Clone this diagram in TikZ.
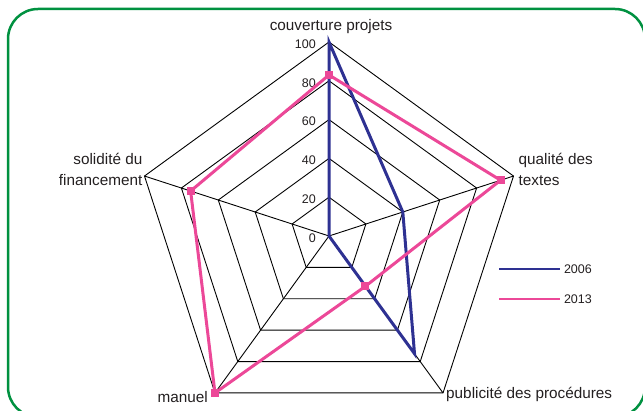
\documentclass[tikz,border=0pt]{standalone}
\usepackage{fontspec}
\setmainfont{Liberation Sans}
\usetikzlibrary{calc}
\newcommand{\radarsize}{194}
\newcommand{\labelfont}{\fontsize{15.3}{21}\selectfont}
\newcommand{\numfont}{\fontsize{12.5}{14}\selectfont}
\definecolor{serieA}{RGB}{46,49,146}
\definecolor{serieB}{RGB}{236,72,152}
\definecolor{cadre}{RGB}{0,145,64}
\definecolor{texte}{RGB}{35,31,32}

\begin{document}
\begin{tikzpicture}[x=1pt,y=1pt,font=\labelfont,text=texte]
	\useasboundingbox (0,0) rectangle (643,411);
	\begin{scope}
	\clip (0,0) rectangle (643,411);
	\draw[cadre, line width=2.5pt, rounded corners=30pt] (8,-6) rectangle (645,402);
	\end{scope}

	\coordinate (O) at (329,175);
	\foreach \name/\ang in {couv/90, qual/18, pub/-54, man/-126, sol/162}
		\coordinate (\name) at ($(O)+(\ang:\radarsize)$);

	% grille
	\foreach \r in {0.2,0.4,0.6,0.8,1.0}
		\draw[line width=0.9pt] ($(O)!\r!(couv)$) -- ($(O)!\r!(qual)$) -- ($(O)!\r!(pub)$)
			-- ($(O)!\r!(man)$) -- ($(O)!\r!(sol)$) -- cycle;
	\foreach \name in {couv, qual, pub, man, sol}
		\draw[line width=0.9pt] (O) -- (\name);
	\foreach \v in {0,20,40,60,80,100}
		\node[anchor=east, font=\numfont, inner sep=0pt] at ($(O)+(-13,\v*1.94-2)$) {\v};

	% series
	\foreach \name/\ang/\a/\b in {couv/90/100/83, qual/18/40/93, pub/-54/75/32, man/-126/0/100, sol/162/0/75} {
		\coordinate (a-\name) at ($(O)+(\ang:\a*1.94)$);
		\coordinate (b-\name) at ($(O)+(\ang:\b*1.94)$);
	}
	\draw[serieA, line width=3pt] (a-couv) -- (a-qual) -- (a-pub) -- (a-man) -- (a-sol) -- cycle;
	\draw[serieB, line width=3pt] (b-couv) -- (b-qual) -- (b-pub) -- (b-man) -- (b-sol) -- cycle;
	\foreach \name in {couv, qual, pub, man, sol}
		\fill[serieB] ($(b-\name)+(-4,-4)$) rectangle ++(8,8);

	% axes
	\node (lcouv) at ($(couv)+(2,15)$) {couverture projets};
	\node[anchor=west, align=left, inner sep=0pt] (lqual) at ($(qual)+(5,7)$) {qualité des\\textes};
	\node[anchor=west, inner sep=0pt] (lpub) at ($(pub)+(3,-2)$) {publicité des procédures};
	\node[anchor=east, inner sep=0pt] (lman) at ($(man)+(-7,-4)$) {manuel};
	\node[anchor=east, align=right, inner sep=0pt] (lsol) at ($(sol)+(-2,7)$) {solidité du\\financement};

	% legende
	\coordinate (legA0) at (499,142);
	\coordinate (legA1) at (560,142);
	\coordinate (legB0) at (499,112);
	\coordinate (legB1) at (560,112);
	\draw[serieA, line width=2pt] (legA0) -- (legA1) node[right, text=texte, font=\numfont, inner sep=3pt] {2006};
	\draw[serieB, line width=2pt] (legB0) -- (legB1) node[right, text=texte, font=\numfont, inner sep=3pt] {2013};
\end{tikzpicture}
\end{document}
